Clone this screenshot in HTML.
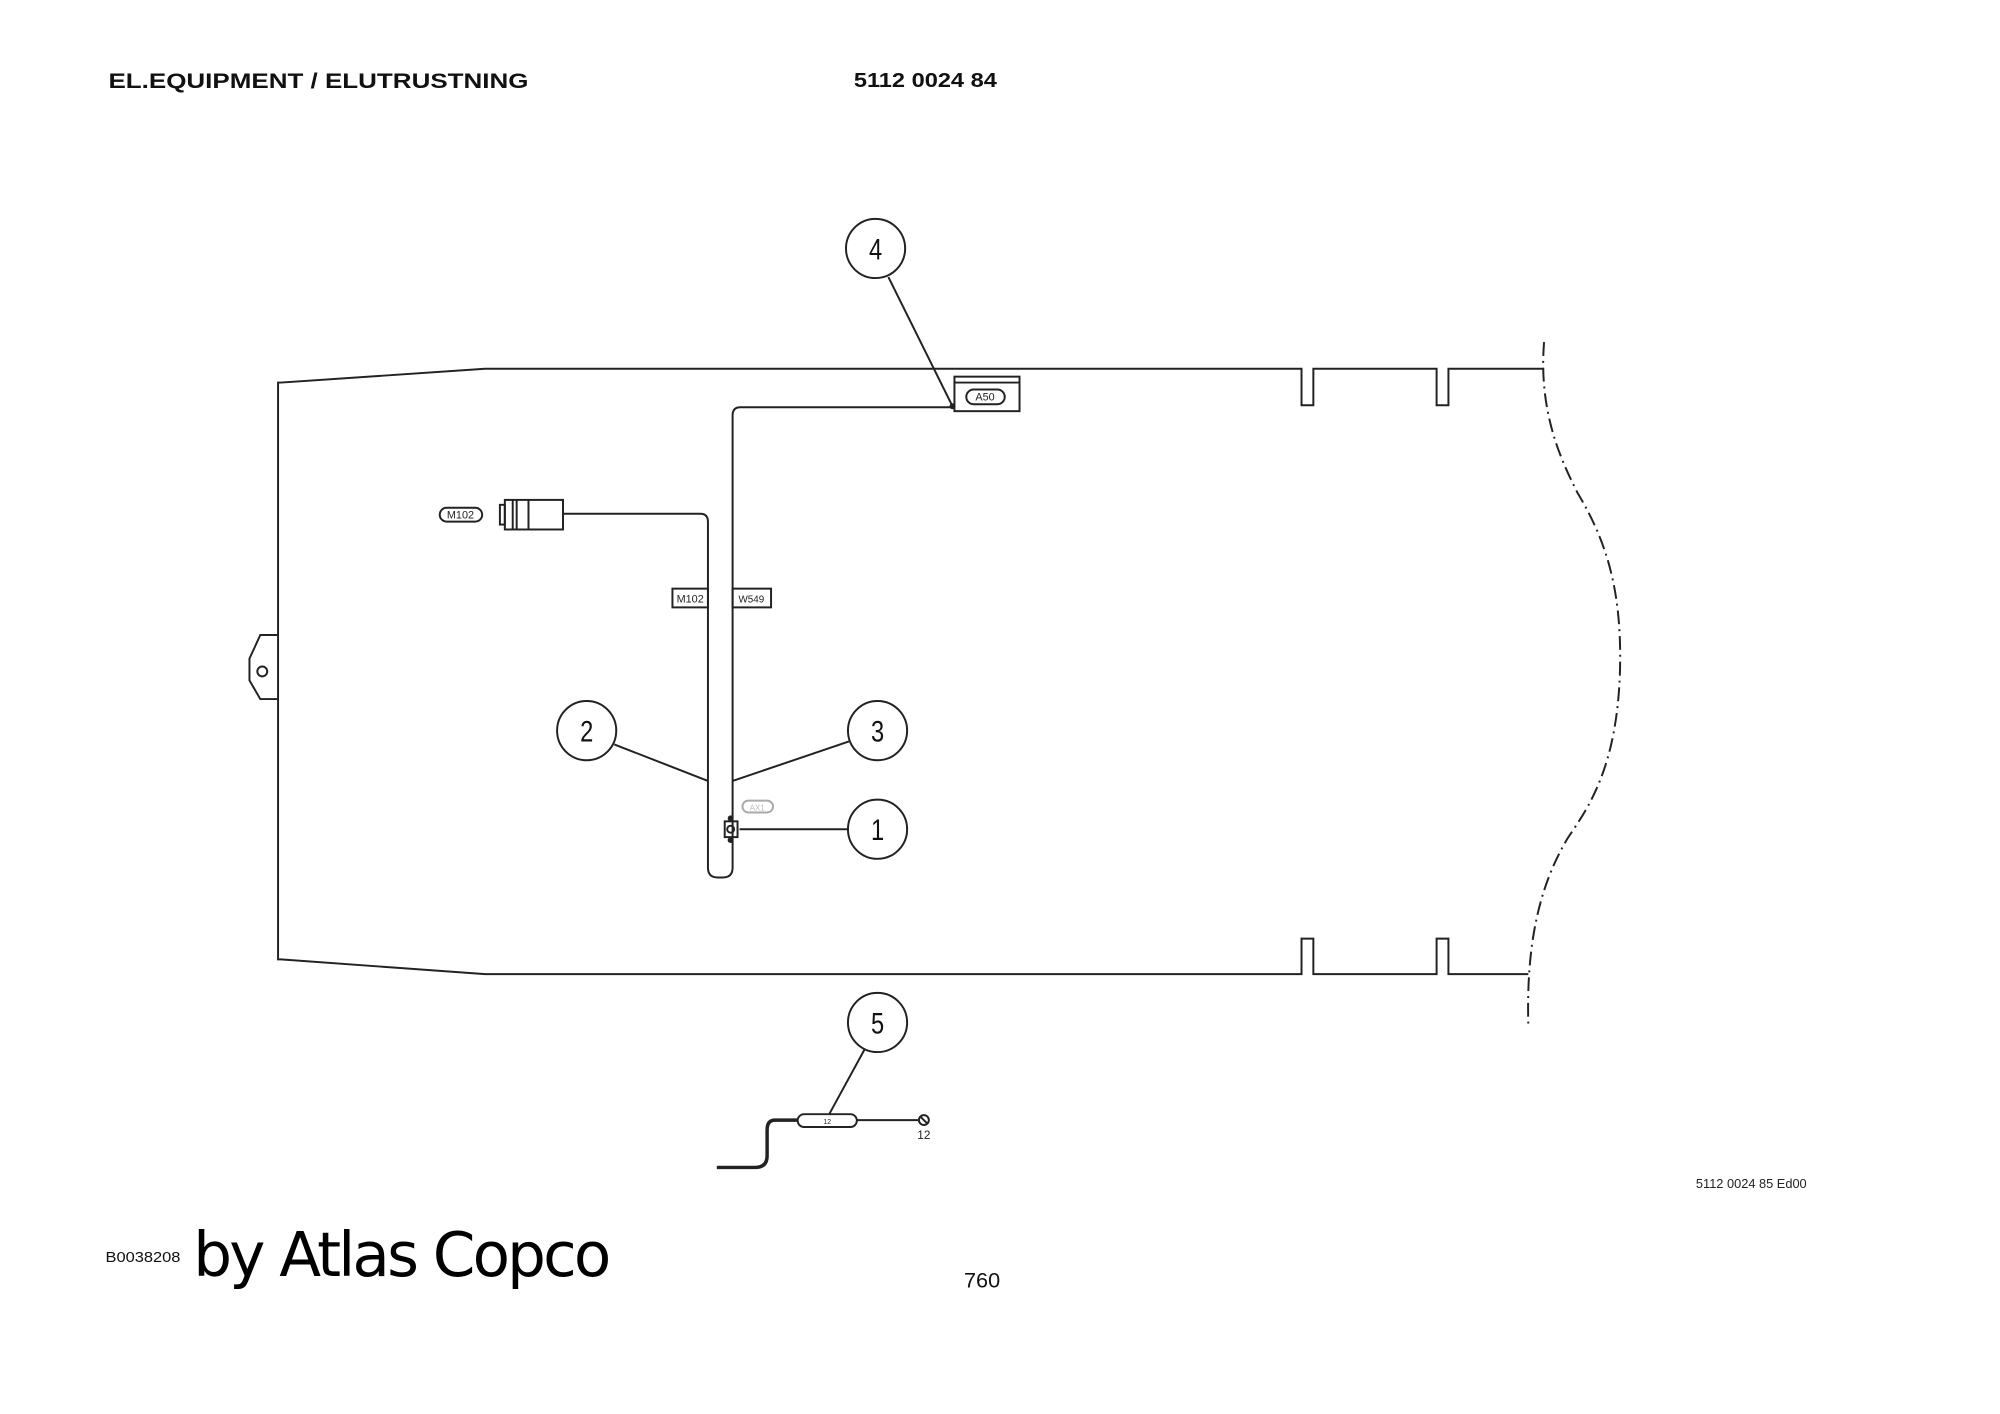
<!DOCTYPE html>
<html><head><meta charset="utf-8"><style>
html,body{margin:0;padding:0;background:#fff}
svg{display:block}
</style></head><body>
<svg width="2000" height="1414" viewBox="0 0 2000 1414" xmlns="http://www.w3.org/2000/svg" font-family="Liberation Sans, sans-serif">
<g transform="scale(0.986)">
<text x="110" y="89" font-size="22" font-weight="bold" fill="#111" textLength="426" lengthAdjust="spacingAndGlyphs">EL.EQUIPMENT / ELUTRUSTNING</text>
<text x="866" y="88" font-size="21" font-weight="bold" fill="#111" textLength="145" lengthAdjust="spacingAndGlyphs">5112 0024 84</text>

<g fill="none" stroke="#222" stroke-width="2">
<path d="M1566 374 H1469 V411 H1457 V374 H1332 V411 H1320 V374 H492 L285 388 H282 V973 H285 L492 988 H1320 V952 H1332 V988 H1457 V952 H1469 V988 H1550"/>
<path d="M282 644 H264 L253 668 L253 690 L264 709 H282"/>
<circle cx="266" cy="681" r="5"/>
</g>
<path d="M1566 347 C1560 420 1585 470 1600 500 C1630 550 1645 600 1643 680 C1640 780 1610 820 1590 850 C1560 900 1548 960 1550 1038" fill="none" stroke="#222" stroke-width="2" stroke-dasharray="14 5 2 5"/>

<g fill="none" stroke="#222" stroke-width="2">
<rect x="968" y="382" width="66" height="35"/>
<line x1="968" y1="388" x2="1034" y2="388"/>
<rect x="980" y="395" width="39" height="15" rx="7.5"/>
<path d="M968 413 H751 Q743 413 743 421 V880 Q743 890 733 890 H728 Q718 890 718 880 V529 Q718 521 710 521 H571"/>
<rect x="512" y="507" width="59" height="30"/>
<line x1="520" y1="507" x2="520" y2="537"/>
<line x1="524" y1="507" x2="524" y2="537"/>
<line x1="536" y1="507" x2="536" y2="537"/>
<rect x="507" y="512" width="5" height="20"/>
<rect x="446" y="515" width="43" height="14" rx="7"/>
<rect x="682" y="597" width="36" height="19"/>
<rect x="743" y="597" width="39" height="19"/>
<circle cx="888" cy="252" r="30"/>
<circle cx="595" cy="741" r="30"/>
<circle cx="890" cy="741" r="30"/>
<circle cx="890" cy="841" r="30"/>
<circle cx="890" cy="1037" r="30"/>
<line x1="901" y1="281" x2="967" y2="414"/>
<line x1="623" y1="755" x2="718" y2="792"/>
<line x1="861" y1="752" x2="743" y2="792"/>
<line x1="750" y1="841" x2="860" y2="841"/>
<line x1="877" y1="1064" x2="841" y2="1130"/>
<rect x="735" y="833" width="13" height="16"/>
<circle cx="741" cy="841" r="3.5"/>
<rect x="753" y="812" width="31" height="12" rx="6" stroke="#aaa"/>
<rect x="809" y="1130" width="60" height="13" rx="6.5"/>
<line x1="869" y1="1136" x2="932" y2="1136"/>
<circle cx="937" cy="1136" r="5"/>
<line x1="933" y1="1132" x2="941" y2="1140"/>
<path d="M809 1136 H786 Q778 1136 778 1146 V1172 Q778 1184 766 1184 H727" stroke-width="3.5"/>
</g>
<circle cx="741" cy="830" r="3" fill="#222"/>
<circle cx="741" cy="852" r="3" fill="#222"/>
<circle cx="966" cy="412" r="3" fill="#222"/>

<g font-size="11" fill="#222" text-anchor="middle">
<text x="999" y="406">A50</text>
<text x="467" y="526">M102</text>
<text x="700" y="611">M102</text>
<text x="762" y="611" font-size="10">W549</text>
<text x="768" y="822" font-size="8" fill="#bbb">AX1</text>
<text x="839" y="1140" font-size="7">12</text>
<text x="937" y="1155" font-size="12">12</text>
</g>
<g font-size="30" fill="#111" text-anchor="middle">
<text x="888" y="263" transform="translate(888 0) scale(0.8 1) translate(-888 0)">4</text>
<text x="595" y="752" transform="translate(595 0) scale(0.8 1) translate(-595 0)">2</text>
<text x="890" y="752" transform="translate(890 0) scale(0.8 1) translate(-890 0)">3</text>
<text x="890" y="852" transform="translate(890 0) scale(0.8 1) translate(-890 0)">1</text>
<text x="890" y="1048" transform="translate(890 0) scale(0.8 1) translate(-890 0)">5</text>
</g>
<text x="1720" y="1205" font-size="13" fill="#222">5112 0024 85 Ed00</text>
<text x="107" y="1280" font-size="15" fill="#111" textLength="76" lengthAdjust="spacingAndGlyphs">B0038208</text>
<text x="196" y="1294" font-size="62" fill="#000" font-family="DejaVu Sans, sans-serif" textLength="424">by Atlas Copco</text>
<text x="996" y="1306" font-size="22" fill="#111" text-anchor="middle">760</text>
</g>
</svg>
</body></html>
